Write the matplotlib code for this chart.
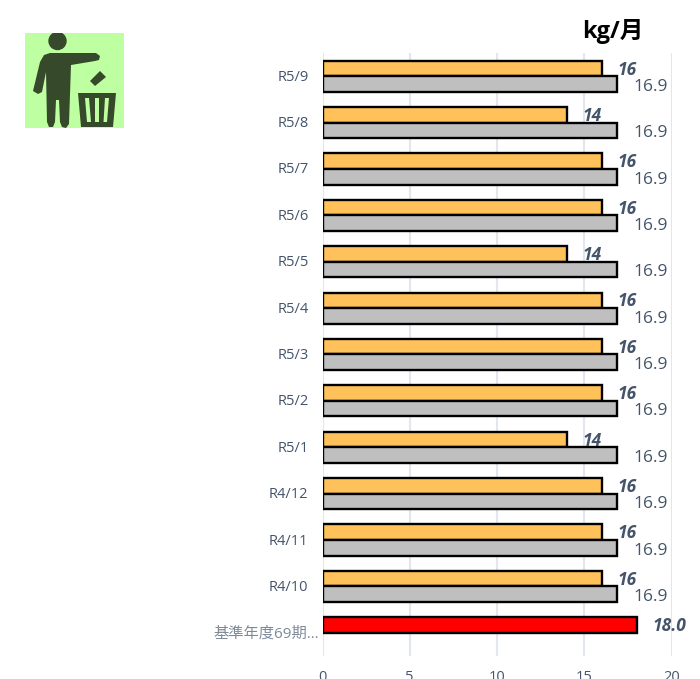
import numpy as np
import matplotlib
matplotlib.use('Agg')
import matplotlib.pyplot as plt
from matplotlib.patches import Circle, Polygon
from matplotlib.transforms import ScaledTranslation

W, H = 700, 679
categories = ['R5/9','R5/8','R5/7','R5/6','R5/5','R5/4','R5/3','R5/2','R5/1','R4/12','R4/11','R4/10','基準年度69期…']
actual = [16,14,16,16,14,16,16,16,14,16,16,16,18.0]
target = [16.9]*12 + [np.nan]
actual_labels = ['16','14','16','16','14','16','16','16','14','16','16','16','18.0']
target_labels = ['16.9']*12 + ['']
xticks = [0,5,10,15,20]

fonts = ['Open Sans','Noto Sans CJK JP','DejaVu Sans']
plt.rcParams['font.family'] = fonts
TXT = '#44546A'
GRID = '#E1E6EF'
fig = plt.figure(figsize=(W/100, H/100), dpi=100)
L, R, T, B = 322.5, 671.5, 53, 656
ax = fig.add_axes([L/W, 1-B/H, (R-L)/W, (B-T)/H])
y = np.arange(len(categories))
h = 0.335
cols = ['#FFC25A']*12 + ['#FF0000']
ax.barh(y-h/2, actual, h, color=cols, edgecolor='black', linewidth=1.7, zorder=3)
ax.barh(y+h/2, target, h, color='#BFBFBF', edgecolor='black', linewidth=1.7, zorder=3)
ax.set_xlim(0,20)
ax.set_ylim(len(categories)-0.5,-0.5)
ax.set_xticks(xticks)
ax.set_yticks(y)
ax.set_yticklabels(categories)
ax.grid(axis='x', color=GRID, lw=1.5, zorder=0)
ax.set_axisbelow(True)
for s in ax.spines.values():
    s.set_visible(False)
ax.tick_params(length=0)
ax.tick_params(axis='x', pad=10, labelsize=10.5, labelcolor=TXT)
ax.tick_params(axis='y', pad=10, labelsize=10.5, labelcolor=TXT)
for lab in ax.get_yticklabels():
    lab.set_transform(lab.get_transform() + ScaledTranslation(0, 1/100, fig.dpi_scale_trans))
base = ax.get_yticklabels()[-1]
base.set_color('#7F8A99')
base.set_fontsize(11)
base.set_transform(base.get_transform() + ScaledTranslation(10/100, 0, fig.dpi_scale_trans))
for i,(v,t,la,lt) in enumerate(zip(actual,target,actual_labels,target_labels)):
    dx = 33 if i==12 else 25.5
    ax.annotate(la,(v,y[i]-h/2),xytext=(dx*.72,-0.8),textcoords='offset points',ha='center',va='center',
                fontsize=12.5,fontweight='bold',fontstyle='italic',color=TXT,zorder=5,annotation_clip=False)
    if lt:
        ax.annotate(lt,(t,y[i]+h/2),xytext=(33*.72,-2),textcoords='offset points',ha='center',va='center',
                    fontsize=12.5,color=TXT,zorder=5,annotation_clip=False)
fig.text(613/W,1-31/H,'kg/月',ha='center',va='center',fontsize=17,fontweight='bold',color='black')

# icon
ia = fig.add_axes([25/W,1-128/H,99/W,95/H])
ia.set_xlim(25,124); ia.set_ylim(128,33); ia.axis('off')
ia.add_patch(plt.Rectangle((25,33),99,95,color='#BEFFA2',zorder=0))
d = '#36492B'
ia.add_patch(Circle((57.5,41),8.5,color=d))
ia.add_patch(Polygon([(50,53),(96,53),(100,56),(99,60),(95,61),(71,65),(69,124),(66,128),(62,127),(60,122),(59,100),(56,100),(55,122),(53,127),(49,127),(47,122),(46,72),(42,92),(38,94),(33,91),(40,62),(44,55)],color=d,lw=0))
ia.add_patch(Polygon([(90,81),(100,71),(106,77),(95,86)],color=d,lw=0))
ia.add_patch(Polygon([(78,93),(116,93),(113,127),(81,127)],color=d,lw=0))
ia.add_patch(Polygon([(85,98),(89,98),(91,122),(87,122)],color='#BEFFA2',lw=0))
ia.add_patch(Polygon([(95,98),(99,98),(99,122),(95,122)],color='#BEFFA2',lw=0))
ia.add_patch(Polygon([(105,98),(109,98),(107,122),(103.5,122)],color='#BEFFA2',lw=0))
fig.savefig('out.png',dpi=100)
